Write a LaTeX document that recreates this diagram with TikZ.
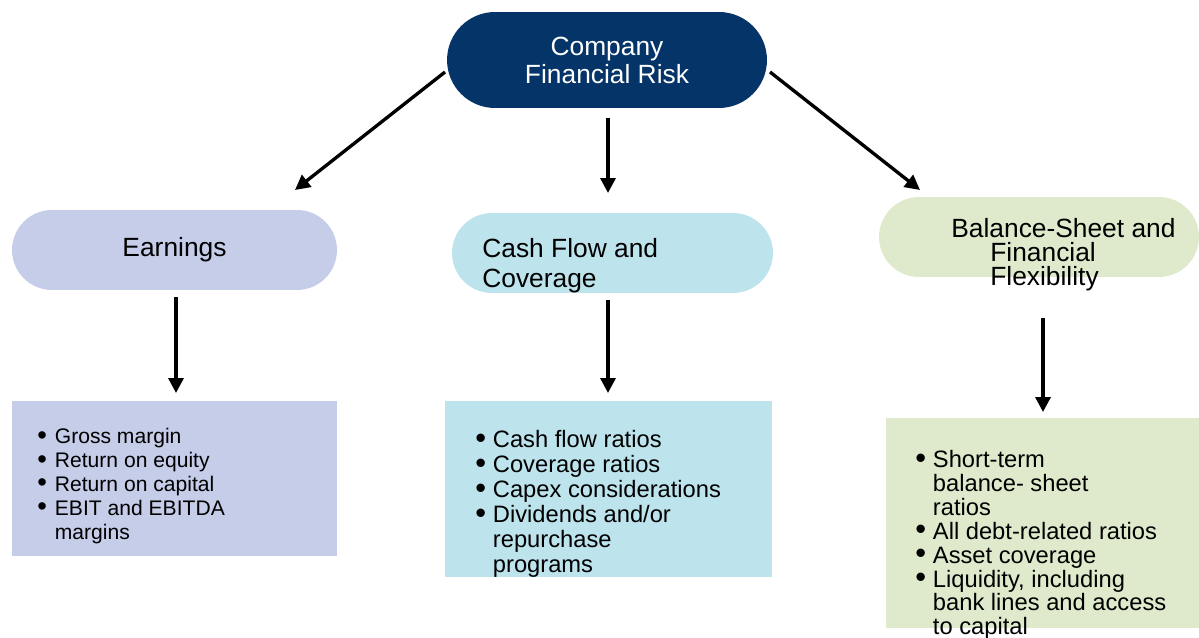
\documentclass[tikz,border=0pt]{standalone}
\usepackage{fontspec}
\setmainfont{Liberation Sans}
\usetikzlibrary{arrows.meta}
\definecolor{navy}{RGB}{4,52,104}
\definecolor{lav}{RGB}{197,205,232}
\definecolor{lblue}{RGB}{189,227,237}
\definecolor{lgreen}{RGB}{222,234,203}
\newcommand\bl{\makebox[10pt][l]{\raisebox{-0.05ex}{\scalebox{1.3}{\textbullet}}}}
\newcommand\ind{\hspace*{10pt}}
\tikzset{
  pill/.style={draw=none, inner sep=0pt, font=\fontsize{15}{16}\selectfont},
  infobox/.style={draw=none, inner sep=0pt},
  conn/.style={line width=1.9pt, -{Triangle[length=8.5pt,width=8.5pt]}},
  txt/.style={inner sep=0pt, align=left, anchor=north west}
}
\begin{document}
\begin{tikzpicture}[x=0.02cm,y=-0.02cm]
\useasboundingbox (0,0) rectangle (1199,638);
% top
\node[pill, fill=navy, text=white, align=center, minimum width=6.4cm, minimum height=1.92cm, rounded corners=0.96cm] (top) at (607,60) {Company\\Financial Risk};
% second row pills
\node[pill, fill=lav, minimum width=6.5cm, minimum height=1.6cm, rounded corners=0.8cm] (earn) at (174.5,250) {Earnings};
\node[pill, fill=lblue, minimum width=6.42cm, minimum height=1.6cm, rounded corners=0.8cm] (cash) at (612.5,253) {};
\node[pill, align=left, anchor=west, font=\fontsize{15}{17}\selectfont] (cashtext) at (482,266) {Cash Flow and\\Coverage};
\node[pill, fill=lgreen, minimum width=6.4cm, minimum height=1.6cm, rounded corners=0.8cm] (bal) at (1039,237) {};
\node[pill, align=left, anchor=west, font=\fontsize{15}{13.6}\selectfont] (baltext) at (951,255) {Balance-Sheet and\\\hspace*{0.78cm}Financial\\\hspace*{0.78cm}Flexibility};
% boxes
\node[infobox, fill=lav, minimum width=6.5cm, minimum height=3.1cm] (earnbox) at (174.5,478.5) {};
\node[txt, font=\fontsize{12}{13.6}\selectfont] (earnlist) at (37,428) {\bl Gross margin\\\bl Return on equity\\\bl Return on capital\\\bl EBIT and EBITDA\\\ind margins};
\node[infobox, fill=lblue, minimum width=6.54cm, minimum height=3.52cm] (cashbox) at (608.5,489) {};
\node[txt, font=\fontsize{13.5}{14.2}\selectfont] (cashlist) at (475,430) {\bl Cash flow ratios\\\bl Coverage ratios\\\bl Capex considerations\\\bl Dividends and/or\\\ind repurchase\\\ind programs};
\node[infobox, fill=lgreen, minimum width=6.3cm, minimum height=4.2cm] (balbox) at (1043,523) {};
\node[txt, font=\fontsize{13.5}{13.6}\selectfont] (ballist) at (915,450) {\bl Short-term\\\ind balance- sheet\\\ind ratios\\\bl All debt-related ratios\\\bl Asset coverage\\\bl Liquidity, including\\\ind bank lines and access\\\ind to capital};
% arrow ends
\coordinate (a1s) at (445,72); \coordinate (a1e) at (295,190);
\coordinate (a2s) at (608,118); \coordinate (a2e) at (608,193);
\coordinate (a3s) at (770,72); \coordinate (a3e) at (920,190);
\coordinate (b1s) at (176,297); \coordinate (b1e) at (176,393);
\coordinate (b2s) at (608,300); \coordinate (b2e) at (608,393);
\coordinate (b3s) at (1043,318); \coordinate (b3e) at (1043,412);
\draw[conn] (a1s) -- (a1e);
\draw[conn] (a2s) -- (a2e);
\draw[conn] (a3s) -- (a3e);
\draw[conn] (b1s) -- (b1e);
\draw[conn] (b2s) -- (b2e);
\draw[conn] (b3s) -- (b3e);
\end{tikzpicture}
\end{document}
